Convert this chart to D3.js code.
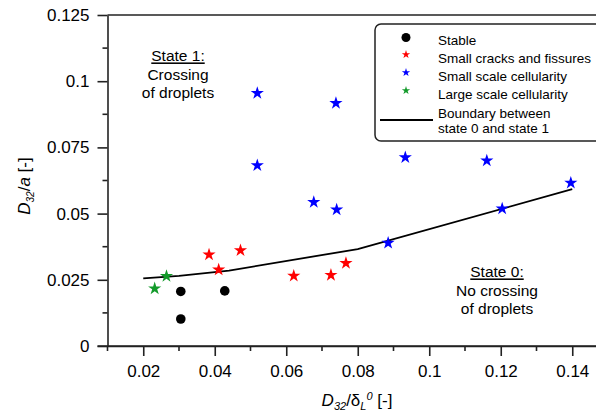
<!doctype html>
<html>
<head>
  <title>D32/a vs D32/deltaL0</title>
  <script src="https://d3js.org/d3.v7.min.js"></script>
  <style>
    body { margin: 0; padding: 0; background: #fff; }
    text { font-family: "Liberation Sans", Arial, sans-serif; fill: #000; }
    .axis path, .axis line { stroke: #222; stroke-width: 1.6; }
  </style>
</head>
<body>
<div id="container"></div>
<script>
  // data
  var stableX = [0.0305, 0.0305, 0.0428];
  var stableY = [0.0206, 0.0102, 0.0208];
  var cracksX = [0.0384, 0.0411, 0.0472, 0.0621, 0.0725, 0.0767];
  var cracksY = [0.0345, 0.0288, 0.0361, 0.0265, 0.0268, 0.0313];
  var smallCellX = [0.0519, 0.0519, 0.0739, 0.0677, 0.0741, 0.0885, 0.0933, 0.1161, 0.1204, 0.1396];
  var smallCellY = [0.0955, 0.0682, 0.0917, 0.0543, 0.0515, 0.0389, 0.0712, 0.0700, 0.0519, 0.0616];
  var largeCellX = [0.0232, 0.0265];
  var largeCellY = [0.0217, 0.0264];
  var boundaryX = [0.020, 0.030, 0.044, 0.080, 0.140];
  var boundaryY = [0.0255, 0.0265, 0.0285, 0.0366, 0.0592];
  var xTicks = [0.02, 0.04, 0.06, 0.08, 0.1, 0.12, 0.14];
  var yTicks = [0, 0.025, 0.05, 0.075, 0.1, 0.125];
  var legendLabels = ["Stable", "Small cracks and fissures", "Small scale cellularity", "Large scale cellularity"];
  var legendColors = ["#000", "#ff0000", "#0000ff", "#139a2a"];

  var width = 596, height = 413;
  var svg = d3.select("#container").append("svg")
      .attr("width", width).attr("height", height);

  var x = d3.scaleLinear().domain([0.01, 0.15]).range([107.5, 608]);
  var y = d3.scaleLinear().domain([0, 0.125]).range([346, 15]);

  function pts(xs, ys) { return xs.map(function(v, i) { return [v, ys[i]]; }); }

  // frame (top border; right side falls outside the page)
  svg.append("line").attr("x1", x(0.01)).attr("x2", width + 5)
     .attr("y1", y(0.125)).attr("y2", y(0.125))
     .attr("stroke", "#222").attr("stroke-width", 1.6);

  // minor ticks
  var xMinor = d3.range(0.01, 0.1451, 0.01).filter(function(v){ return Math.abs(v*50 - Math.round(v*50)) > 1e-6; });
  var yMinor = d3.range(0.0125, 0.125, 0.025);
  svg.append("g").selectAll("line").data(xMinor).enter().append("line")
     .attr("x1", function(d){ return x(d); }).attr("x2", function(d){ return x(d); })
     .attr("y1", 346).attr("y2", 351).attr("stroke", "#222").attr("stroke-width", 1.6);
  svg.append("g").selectAll("line").data(yMinor).enter().append("line")
     .attr("y1", function(d){ return y(d); }).attr("y2", function(d){ return y(d); })
     .attr("x1", x(0.01) - 5).attr("x2", x(0.01)).attr("stroke", "#222").attr("stroke-width", 1.6);

  var xAxis = svg.append("g").attr("class", "axis")
      .attr("transform", "translate(0," + y(0) + ")")
      .call(d3.axisBottom(x).tickValues(xTicks).tickSize(10).tickSizeOuter(0)
            .tickFormat(d3.format("")));
  xAxis.selectAll("text").style("font-size", "17px").attr("dy", "1.05em");

  var yAxis = svg.append("g").attr("class", "axis")
      .attr("transform", "translate(" + x(0.01) + ",0)")
      .call(d3.axisLeft(y).tickValues(yTicks).tickSize(10).tickSizeOuter(0)
            .tickFormat(function(d){ return d === 0 ? "0" : String(+d.toFixed(3)); }));
  yAxis.selectAll("text").style("font-size", "17px").attr("x", -18);
  // extend bottom line to the 0 tick, like the source
  svg.append("line").attr("x1", x(0.01) - 10).attr("x2", width + 5)
     .attr("y1", y(0)).attr("y2", y(0)).attr("stroke", "#222").attr("stroke-width", 1.6);

  // boundary line
  svg.append("path").datum(pts(boundaryX, boundaryY))
     .attr("fill", "none").attr("stroke", "#000").attr("stroke-width", 1.8)
     .attr("d", d3.line().x(function(d){ return x(d[0]); }).y(function(d){ return y(d[1]); }));

  var star = d3.symbol().type(d3.symbolStar).size(54);
  var starSmall = d3.symbol().type(d3.symbolStar).size(22);

  svg.append("g").selectAll("circle").data(pts(stableX, stableY)).enter().append("circle")
     .attr("cx", function(d){ return x(d[0]); }).attr("cy", function(d){ return y(d[1]); })
     .attr("r", 4.8).attr("fill", "#000");

  [[cracksX, cracksY, legendColors[1]], [smallCellX, smallCellY, legendColors[2]], [largeCellX, largeCellY, legendColors[3]]]
    .forEach(function(s) {
      svg.append("g").selectAll("path").data(pts(s[0], s[1])).enter().append("path")
         .attr("d", star)
         .attr("transform", function(d){ return "translate(" + x(d[0]) + "," + y(d[1]) + ")"; })
         .attr("fill", s[2]);
    });

  // legend
  var lg = svg.append("g");
  lg.append("rect").attr("x", 375).attr("y", 24).attr("width", 240).attr("height", 117)
    .attr("rx", 6).attr("fill", "#fff").attr("stroke", "#222").attr("stroke-width", 1.5);
  var rowY = [40, 58, 76, 94];
  legendLabels.forEach(function(t, i) {
    if (i === 0) {
      lg.append("circle").attr("cx", 406).attr("cy", rowY[i] - 2.5).attr("r", 4.5).attr("fill", "#000");
    } else {
      lg.append("path").attr("d", starSmall)
        .attr("transform", "translate(406," + (rowY[i] - 3.5) + ")").attr("fill", legendColors[i]);
    }
    lg.append("text").attr("x", 438).attr("y", rowY[i]).attr("dy", "0.35em")
      .style("font-size", "13.5px").text(t);
  });
  lg.append("line").attr("x1", 380).attr("x2", 433).attr("y1", 120).attr("y2", 120)
    .attr("stroke", "#000").attr("stroke-width", 1.8);
  lg.append("text").attr("x", 438).attr("y", 113).attr("dy", "0.35em").style("font-size", "13.5px").text("Boundary between");
  lg.append("text").attr("x", 438).attr("y", 128).attr("dy", "0.35em").style("font-size", "13.5px").text("state 0 and state 1");

  // annotations
  function note(cx, cy, lines) {
    lines.forEach(function(t, i) {
      var tx = svg.append("text").attr("x", cx).attr("y", cy + i * 18.5).attr("dy", "0.35em")
        .attr("text-anchor", "middle").style("font-size", "15.5px").text(t);
      if (i === 0) tx.attr("text-decoration", "underline");
    });
  }
  note(178, 56, ["State 1:", "Crossing", "of droplets"]);
  note(497, 272, ["State 0:", "No crossing", "of droplets"]);

  // axis titles
  var xl = svg.append("text").attr("x", 357).attr("y", 406).attr("text-anchor", "middle")
      .style("font-size", "17px");
  xl.append("tspan").style("font-style", "italic").text("D");
  xl.append("tspan").style("font-style", "italic").style("font-size", "11px").attr("dy", 4).text("32");
  xl.append("tspan").attr("dy", -4).text("/δ");
  xl.append("tspan").style("font-style", "italic").style("font-size", "11px").attr("dy", 4).text("L");
  xl.append("tspan").style("font-style", "italic").style("font-size", "11px").attr("dy", -10).text("0");
  xl.append("tspan").attr("dy", 6).text(" [-]");

  var yl = svg.append("text").attr("transform", "translate(30,186) rotate(-90)")
      .attr("text-anchor", "middle").style("font-size", "17px");
  yl.append("tspan").style("font-style", "italic").text("D");
  yl.append("tspan").style("font-style", "italic").style("font-size", "10px").attr("dy", 4).text("32");
  yl.append("tspan").attr("dy", -4).text("/");
  yl.append("tspan").style("font-style", "italic").text("a");
  yl.append("tspan").text(" [-]");
</script>
</body>
</html>
